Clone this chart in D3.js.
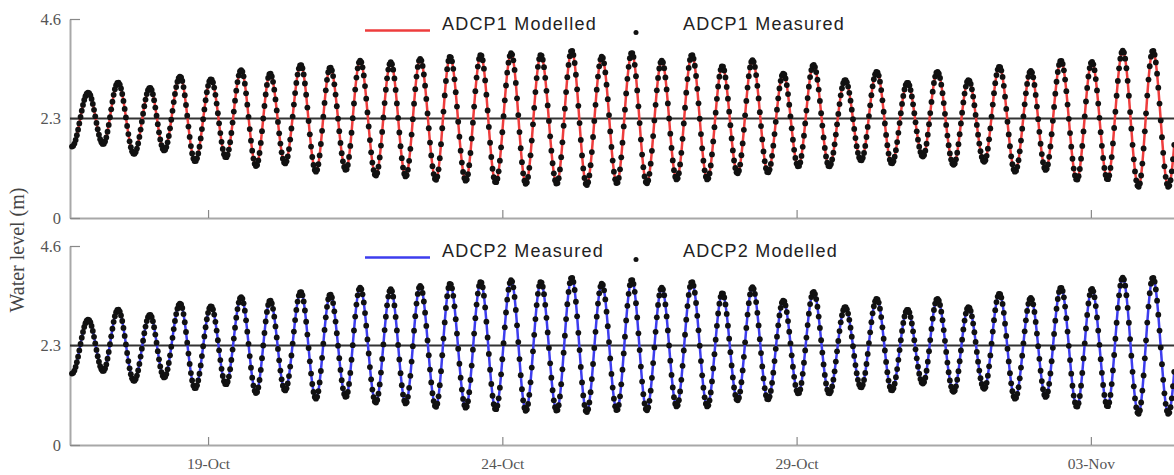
<!DOCTYPE html>
<html><head><meta charset="utf-8">
<script src="https://cdn.jsdelivr.net/npm/d3@7"></script>
<style>body{margin:0;background:#fff}svg{display:block}</style>
</head><body>
<svg id="chart" width="1174" height="475"></svg>
<script>
// Times (hours after 16-Oct 00:00) of successive low / high waters
const extremeHours = [16.5,23.1,29.2,35.3,41.8,48.3,54.1,60.6,66.7,73.2,79.3,85.5,91.6,97.3,103.4,109.8,116.0,121.8,128.2,134.0,
  140.4,146.5,152.6,158.5,164.9,170.7,177.1,183.2,189.3,195.6,201.6,207.7,214.2,220.3,226.4,232.6,238.7,244.8,250.9,257.0,
  263.1,269.3,275.6,281.7,287.9,294.0,300.3,306.6,312.7,318.9,325.3,331.8,338.3,344.7,350.8,357.2,363.5,369.4,376.0,382.1,
  388.5,394.7,401.1,407.5,413.6,419.8,426.3,432.4,438.8,445.0,451.4,457.3,463.6,469.8];
// Water level (m) at those low / high waters
const extremeLevels = [1.65,2.90,1.71,3.13,1.48,3.01,1.56,3.27,1.31,3.21,1.40,3.42,1.20,3.34,1.26,3.54,1.07,3.48,1.11,3.64,
  0.98,3.60,0.96,3.68,0.88,3.73,0.86,3.77,0.82,3.81,0.79,3.77,0.79,3.87,0.76,3.73,0.80,3.82,0.80,3.64,
  0.89,3.77,0.89,3.51,1.03,3.65,1.05,3.34,1.19,3.54,1.19,3.19,1.33,3.38,1.26,3.13,1.42,3.38,1.23,3.19,
  1.30,3.50,1.07,3.40,1.11,3.64,0.88,3.61,0.89,3.87,0.72,3.87,0.72,3.70];
const meanLevel = 2.3;
const yTickValues = [0, 2.3, 4.6];
const xTickDates = ["2017-10-19", "2017-10-24", "2017-10-29", "2017-11-03"];
const lineLabels = ["ADCP1 Modelled", "ADCP2 Measured"];
const dotLabels = ["ADCP1 Measured", "ADCP2 Modelled"];
const lineColors = ["#ee3d3d", "#3d3dee"];

const startDate = new Date(2017, 9, 16, 0, 0);
const hourToDate = h => new Date(startDate.getTime() + h * 3600e3);

// half-hourly samples along the tidal curve between read extremes
const samples = d3.range(16.5, 466.01, 0.5).map(h => {
  let i = d3.bisectRight(extremeHours, h) - 1;
  i = Math.max(0, Math.min(i, extremeHours.length - 2));
  const t = (h - extremeHours[i]) / (extremeHours[i + 1] - extremeHours[i]);
  const v = extremeLevels[i] + (extremeLevels[i + 1] - extremeLevels[i]) * d3.easeSinInOut(t);
  return { date: hourToDate(h), v };
});

const svg = d3.select("#chart");
const x = d3.scaleTime().domain([hourToDate(15.7), hourToDate(465.9)]).range([70, 1174]);

const panels = [{ top: 19, bottom: 218, labels: false }, { top: 246, bottom: 445, labels: true }];

panels.forEach((p, k) => {
  const y = d3.scaleLinear().domain([0, 4.6]).range([p.bottom, p.top]);
  const g = svg.append("g");

  // axes
  const xa = g.append("g").attr("transform", `translate(0,${p.bottom})`)
    .call(d3.axisBottom(x).tickValues(xTickDates.map(d => d3.timeParse("%Y-%m-%d")(d)))
      .tickFormat(d3.timeFormat("%d-%b")).tickSizeInner(-8).tickSizeOuter(0).tickPadding(13));
  const ya = g.append("g").attr("transform", "translate(70,0)")
    .call(d3.axisLeft(y).tickValues(yTickValues).tickFormat(d3.format("")).tickSizeInner(-10).tickSizeOuter(0).tickPadding(9));
  [xa, ya].forEach(a => {
    a.select(".domain").attr("stroke", "#a8a8a8").attr("stroke-width", 2);
    a.selectAll(".tick line").attr("stroke", "#888").attr("stroke-width", 1.2);
    a.selectAll("text").attr("font-family", "Liberation Serif").attr("font-size", 15.5).attr("fill", "#555");
  });
  ya.selectAll("text").attr("font-size", 16.5);
  if (!p.labels) xa.selectAll("text").remove();

  // mean level line
  g.append("line").attr("x1", 70).attr("x2", 1174).attr("y1", y(meanLevel)).attr("y2", y(meanLevel))
    .attr("stroke", "#333").attr("stroke-width", 2);

  // line series
  g.append("path").datum(samples)
    .attr("d", d3.line().x(d => x(d.date)).y(d => y(d.v)))
    .attr("fill", "none").attr("stroke", lineColors[k]).attr("stroke-width", 2.5);

  // dot series
  g.append("g").selectAll("circle").data(samples).join("circle")
    .attr("cx", d => x(d.date)).attr("cy", d => y(d.v)).attr("r", 2.9).attr("fill", "#111");

  // legend
  const ly = p.top + 11.5;
  g.append("line").attr("x1", 365).attr("x2", 430).attr("y1", ly).attr("y2", ly)
    .attr("stroke", lineColors[k]).attr("stroke-width", 2.5);
  g.append("text").attr("x", 442).attr("y", ly - 1).text(lineLabels[k])
    .attr("font-family", "Liberation Sans").attr("font-size", 18).attr("letter-spacing", 1.2).attr("fill", "#222");
  g.append("circle").attr("cx", 636).attr("cy", ly + 2).attr("r", 2.5).attr("fill", "#111");
  g.append("text").attr("x", 683).attr("y", ly - 1).text(dotLabels[k])
    .attr("font-family", "Liberation Sans").attr("font-size", 18).attr("letter-spacing", 1.2).attr("fill", "#222");
});

svg.append("text").attr("transform", "translate(24,250) rotate(-90)").attr("text-anchor", "middle")
  .attr("font-family", "Liberation Serif").attr("font-size", 20).attr("fill", "#444").text("Water level (m)");
</script>
</body></html>
